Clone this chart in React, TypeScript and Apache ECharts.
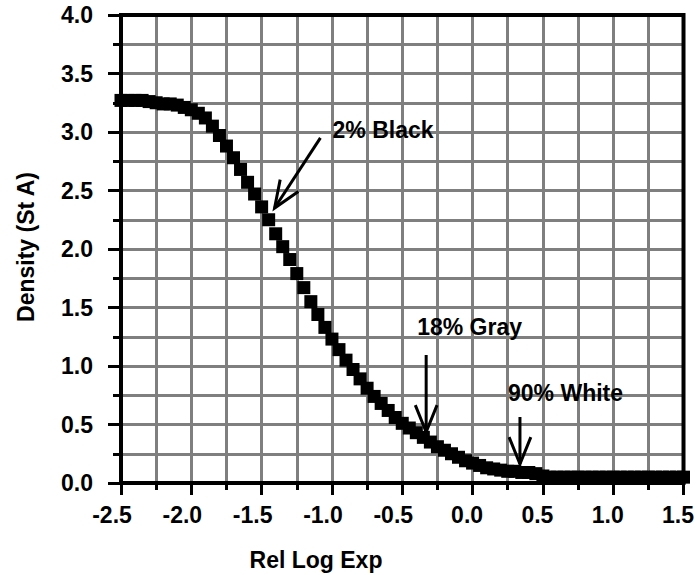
import React, { useEffect, useRef } from "react";
import * as echarts from "echarts";

// Relative log exposure (x) and measured density (y) of the film curve
const logExp = [
  -2.5, -2.45, -2.4, -2.35, -2.3, -2.25, -2.2, -2.15, -2.1, -2.05,
  -2.0, -1.95, -1.9, -1.85, -1.8, -1.75, -1.7, -1.65, -1.6, -1.55,
  -1.5, -1.45, -1.4, -1.35, -1.3, -1.25, -1.2, -1.15, -1.1, -1.05,
  -1.0, -0.95, -0.9, -0.85, -0.8, -0.75, -0.7, -0.65, -0.6, -0.55,
  -0.5, -0.45, -0.4, -0.35, -0.3, -0.25, -0.2, -0.15, -0.1, -0.05,
  0.0, 0.05, 0.1, 0.15, 0.2, 0.25, 0.3, 0.35, 0.4, 0.45,
  0.5, 0.55, 0.6, 0.65, 0.7, 0.75, 0.8, 0.85, 0.9, 0.95,
  1.0, 1.05, 1.1, 1.15, 1.2, 1.25, 1.3, 1.35, 1.4, 1.45, 1.5,
];

const density = [
  3.27, 3.27, 3.27, 3.27, 3.26, 3.25, 3.24, 3.24, 3.23, 3.21,
  3.19, 3.16, 3.12, 3.05, 2.97, 2.88, 2.78, 2.68, 2.57, 2.47,
  2.36, 2.25, 2.13, 2.02, 1.91, 1.79, 1.67, 1.55, 1.44, 1.33,
  1.23, 1.14, 1.05, 0.97, 0.89, 0.81, 0.74, 0.68, 0.62, 0.56,
  0.51, 0.47, 0.43, 0.39, 0.35, 0.31, 0.28, 0.25, 0.22, 0.19,
  0.17, 0.15, 0.13, 0.12, 0.11, 0.1, 0.1, 0.09, 0.09, 0.08,
  0.06, 0.05, 0.05, 0.05, 0.05, 0.05, 0.05, 0.05, 0.05, 0.05,
  0.05, 0.05, 0.05, 0.05, 0.05, 0.05, 0.05, 0.05, 0.05, 0.05, 0.05,
];

// Callouts: label text, label anchor (left-middle), arrow tail and arrow tip, in data units
const calloutLabels = ["2% Black", "18% Gray", "90% White"];
const calloutTextAt = [
  [-0.996, 3.02],
  [-0.394, 1.33],
  [0.252, 0.768],
];
const calloutFrom = [
  [-1.082, 2.95],
  [-0.33, 1.094],
  [0.337, 0.564],
];
const calloutTo = [
  [-1.408, 2.35],
  [-0.33, 0.436],
  [0.337, 0.162],
];

const xTitle = "Rel Log Exp";
const yTitle = "Density (St A)";

const FONT = "Liberation Sans, Arial, Helvetica, sans-serif";
const GRID_GRAY = "#7f7f7f";

export default function App() {
  const ref = useRef<HTMLDivElement>(null);

  useEffect(() => {
    if (!ref.current) return;
    const chart = echarts.init(ref.current, null, { renderer: "svg" });

    const labelStyle = {
      fontFamily: FONT,
      fontWeight: "bold" as const,
      fontSize: 23,
      color: "#000",
    };

    chart.setOption({
      animation: false,
      backgroundColor: "#fff",
      grid: {
        left: 121,
        right: 12,
        top: 15,
        bottom: 92,
        show: true,
        borderColor: "#000",
        borderWidth: 4,
        backgroundColor: "transparent",
        z: 3,
      },
      xAxis: {
        type: "value",
        min: -2.5,
        max: 1.5,
        interval: 0.5,
        axisLine: { show: true, onZero: false, lineStyle: { color: "#000", width: 4 } },
        axisTick: { show: true, length: 12, lineStyle: { color: "#000", width: 3 } },
        minorTick: { show: true, splitNumber: 2, length: 7, lineStyle: { color: "#000", width: 3 } },
        splitLine: { show: true, lineStyle: { color: GRID_GRAY, width: 3 } },
        minorSplitLine: { show: true, lineStyle: { color: GRID_GRAY, width: 3 } },
        axisLabel: {
          ...labelStyle,
          margin: 20,
          formatter: (v: number) => (v < 0 ? `{neg|${v.toFixed(1)}}` : `{pos|${v.toFixed(1)}}`),
          rich: {
            neg: { ...labelStyle, padding: [0, 18, 0, 0] },
            pos: { ...labelStyle, padding: [0, 11, 0, 0] },
          },
        },
      },
      yAxis: {
        type: "value",
        min: 0,
        max: 4,
        interval: 0.5,
        axisLine: { show: true, onZero: false, lineStyle: { color: "#000", width: 4 } },
        axisTick: { show: true, length: 13, lineStyle: { color: "#000", width: 3 } },
        minorTick: { show: true, splitNumber: 2, length: 8, lineStyle: { color: "#000", width: 3 } },
        splitLine: { show: true, lineStyle: { color: GRID_GRAY, width: 3 } },
        minorSplitLine: { show: true, lineStyle: { color: GRID_GRAY, width: 3 } },
        axisLabel: {
          ...labelStyle,
          margin: 28,
          formatter: (v: number) => v.toFixed(1),
        },
      },
      series: [
        {
          type: "scatter",
          data: logExp.map((x, i) => [x, density[i]]),
          symbol: "rect",
          symbolSize: 13,
          itemStyle: { color: "#000", opacity: 1 },
          clip: false,
          z: 5,
        },
      ],
    });

    // Callout arrows and labels, placed through the grid's coordinate system
    const toPx = (p: number[]) => chart.convertToPixel({ gridIndex: 0 }, p) as number[];
    const headLen = 29;
    const headAngle = (22 * Math.PI) / 180;
    const graphics: any[] = [];

    calloutLabels.forEach((label, i) => {
      const t = toPx(calloutTextAt[i]);
      const a = toPx(calloutFrom[i]);
      const b = toPx(calloutTo[i]);
      const back = Math.atan2(a[1] - b[1], a[0] - b[0]);
      const arm = (s: number) => [
        b[0] + headLen * Math.cos(back + s * headAngle),
        b[1] + headLen * Math.sin(back + s * headAngle),
      ];
      graphics.push(
        {
          type: "text",
          x: t[0],
          y: t[1],
          z: 10,
          style: {
            text: label,
            fill: "#000",
            font: `bold 23px ${FONT}`,
            textAlign: "left",
            textVerticalAlign: "middle",
            align: "left",
            verticalAlign: "middle",
          },
        },
        {
          type: "line",
          z: 10,
          shape: { x1: a[0], y1: a[1], x2: b[0], y2: b[1] },
          style: { stroke: "#000", lineWidth: 3 },
        },
        {
          type: "polyline",
          z: 10,
          shape: { points: [arm(1), b, arm(-1)] },
          style: { stroke: "#000", lineWidth: 3, fill: null },
        }
      );
    });

    // Axis titles
    graphics.push(
      {
        type: "text",
        x: 316,
        y: 560,
        z: 10,
        style: {
          text: xTitle,
          fill: "#000",
          font: `bold 23px ${FONT}`,
          textAlign: "center",
          textVerticalAlign: "middle",
          align: "center",
          verticalAlign: "middle",
        },
      },
      {
        type: "text",
        x: 26,
        y: 247,
        rotation: Math.PI / 2,
        z: 10,
        style: {
          text: yTitle,
          fill: "#000",
          font: `bold 23px ${FONT}`,
          textAlign: "center",
          textVerticalAlign: "middle",
          align: "center",
          verticalAlign: "middle",
        },
      }
    );

    chart.setOption({ graphic: graphics });

    return () => chart.dispose();
  }, []);

  return (
    <div
      ref={ref}
      style={{ position: "fixed", left: 0, top: 0, width: 697, height: 575 }}
    />
  );
}
